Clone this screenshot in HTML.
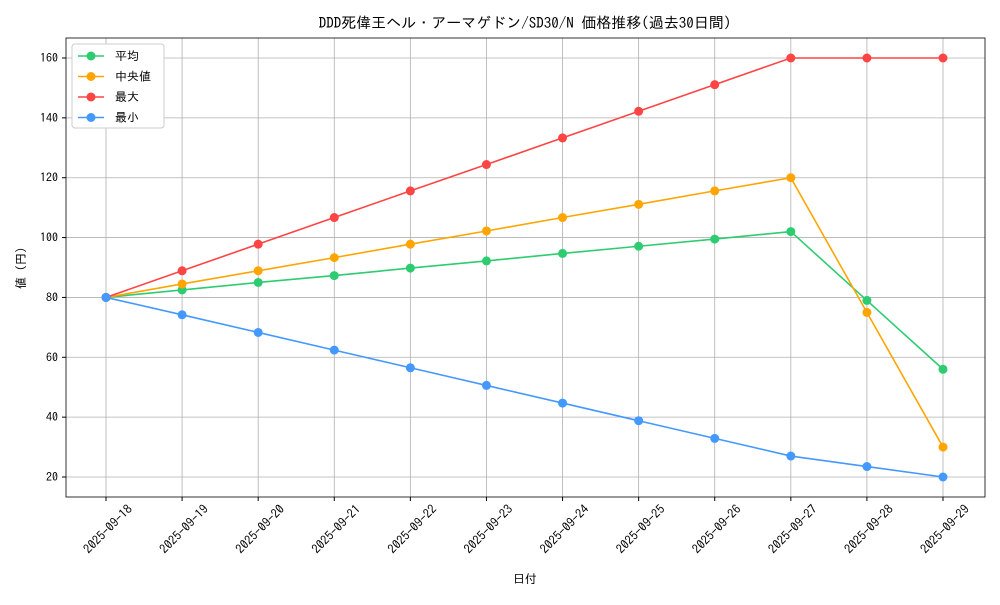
<!DOCTYPE html>
<html><head><meta charset="utf-8"><style>
body{margin:0;background:#fff;}
svg text{font-family:"IPAGothic","Liberation Mono","Noto Sans CJK JP",monospace;fill:#000;}
</style></head><body>
<svg id="chart" width="1000" height="600" xmlns="http://www.w3.org/2000/svg">
<rect width="1000" height="600" fill="#fff"/>
<text x="525" y="28" font-size="15" text-anchor="middle">DDD死偉王ヘル・アーマゲドン/SD30/N 価格推移(過去30日間)</text>
<g id="grid"></g><g id="axes"></g><g id="series"></g>
<text x="525" y="583" font-size="12" text-anchor="middle">日付</text>
<text transform="translate(25,268) rotate(-90)" font-size="12" text-anchor="middle">値 (円)</text>
<g id="legend"></g>
</svg>
<script>
const dates=["2025-09-18","2025-09-19","2025-09-20","2025-09-21","2025-09-22","2025-09-23","2025-09-24","2025-09-25","2025-09-26","2025-09-27","2025-09-28","2025-09-29"];
const avgVals=[80,82.5,85,87.3,89.8,92.2,94.7,97.1,99.5,102,79,56];
const medVals=[80,84.5,88.9,93.3,97.8,102.2,106.7,111.1,115.6,120,75,30];
const maxVals=[80,88.9,97.8,106.7,115.6,124.4,133.3,142.2,151.1,160,160,160];
const minVals=[80,74.2,68.3,62.4,56.5,50.6,44.7,38.8,32.9,27,23.5,20];
const yTicks=[20,40,60,80,100,120,140,160];
const seriesNames=["平均","中央値","最大","最小"];
const colors=["#2ecc71","#ffa500","#ff4444","#4499ff"];
const NS="http://www.w3.org/2000/svg";
const L=66,R=985,T=38,B=497;
const x=i=>106+i*(943-106)/(dates.length-1);
const y=v=>477-(v-20)*(477-58)/140;
function mk(tag,attrs,parent){const e=document.createElementNS(NS,tag);for(const k in attrs)e.setAttribute(k,attrs[k]);parent.appendChild(e);return e;}
const grid=document.getElementById('grid'),axes=document.getElementById('axes'),ser=document.getElementById('series'),leg=document.getElementById('legend');
dates.forEach((d,i)=>{
 const g=mk('line',{x1:x(i),x2:x(i),y1:T,y2:B,stroke:'#b0b0b0','stroke-width':0.8},grid);
 
 
 mk('line',{x1:x(i),x2:x(i),y1:B,y2:B+4,stroke:'#000'},axes);
 const t=mk('text',{transform:`translate(${x(i)+27},${B+13}) rotate(-45)`,'font-size':12.5,'text-anchor':'end'},axes);
 
 
 t.textContent=d;
});
yTicks.forEach(v=>{
 const g=mk('line',{x1:L,x2:R,y1:y(v),y2:y(v),stroke:'#b0b0b0','stroke-width':0.8},grid);
 
 
 mk('line',{x1:L-4,x2:L,y1:y(v),y2:y(v),stroke:'#000'},axes);
 const t=mk('text',{x:L-8,y:y(v)+4,'font-size':12,'text-anchor':'end'},axes);
 
 
 t.textContent=v;
});
const frame=mk('rect',{x:L,y:T,width:R-L,height:B-T,fill:'none',stroke:'#000','stroke-width':0.8},axes);


[avgVals,medVals,maxVals,minVals].forEach((vals,s)=>{
 const g=mk('g',{},ser);
 
 
 mk('polyline',{points:vals.map((v,i)=>x(i)+','+y(v)).join(' '),fill:'none',stroke:colors[s],'stroke-width':1.6},g);
 vals.forEach((v,i)=>{
  const c=mk('circle',{cx:x(i),cy:y(v),r:4.5,fill:colors[s]},g);
  
  
 });
});
mk('rect',{x:72,y:44,width:92,height:84,fill:'#fff',stroke:'#ccc',rx:3},leg);
seriesNames.forEach((n,s)=>{
 const yy=56+s*20.5;
 const g=mk('g',{},leg);
 
 
 mk('line',{x1:78,x2:104,y1:yy,y2:yy,stroke:colors[s],'stroke-width':1.6},g);
 mk('circle',{cx:91,cy:yy,r:4.5,fill:colors[s]},g);
 const t=mk('text',{x:115,y:yy+4,'font-size':12},g);
 t.textContent=n;
});
</script>
</body></html>
